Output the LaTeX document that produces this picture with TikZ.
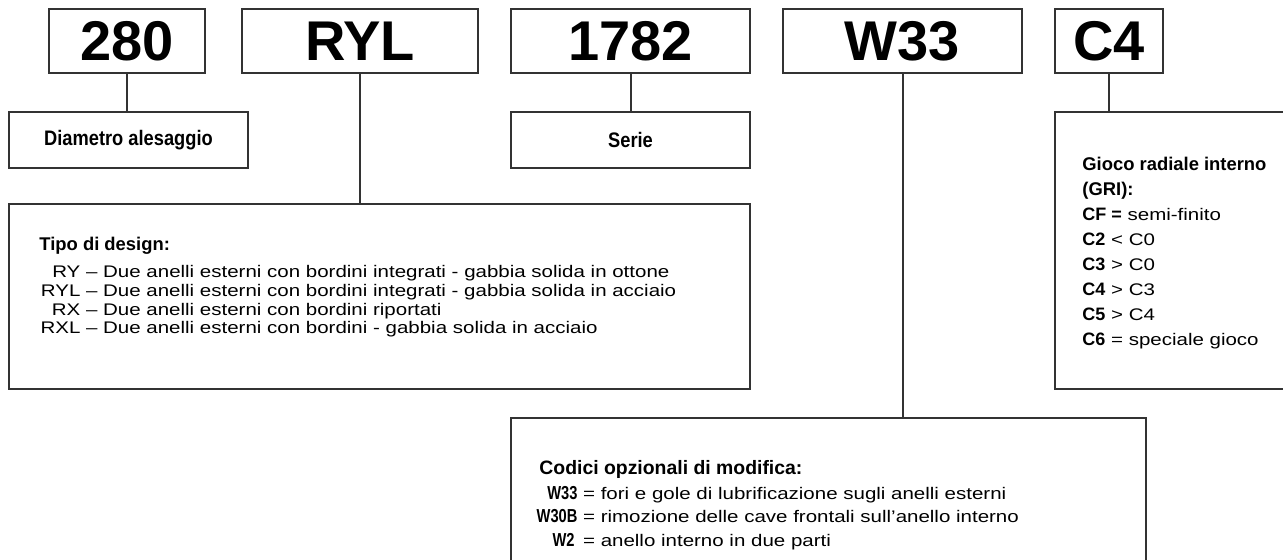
\documentclass[tikz,border=0pt]{standalone}
\usepackage{fontspec}
\setmainfont{Liberation Sans}
\newfontfamily\widefont[FakeStretch=1.22]{Liberation Sans}
\newfontfamily\condfont[FakeStretch=0.87]{Liberation Sans}
\newfontfamily\narrowfont[FakeStretch=0.78]{Liberation Sans}
\usetikzlibrary{positioning}

\newcommand\heading[1]{{\rmfamily\fontsize{9.2}{9.2}\selectfont\bfseries #1}}
\newcommand\optcode[1]{{\rmfamily\fontsize{9}{9}\selectfont\bfseries #1}}
\newcommand\modcode[1]{{\narrowfont\fontsize{9.4}{9.4}\selectfont\bfseries #1}}

\tikzset{
	codebox/.style={draw=black!80, line width=1pt, minimum height=32pt, inner sep=0pt,
		font=\fontsize{28}{28}\selectfont\bfseries},
	labelbox/.style={draw=black!80, line width=1pt, minimum height=28pt, inner sep=0pt,
		font=\condfont\fontsize{10.5}{12}\selectfont\bfseries},
	infobox/.style={draw=black!80, line width=1pt, inner sep=0pt},
	listtext/.style={inner sep=0pt, align=left, anchor=north west},
	link/.style={draw=black!80, line width=1pt},
}

\begin{document}
\begin{tikzpicture}[x=0.5pt,y=-0.5pt]
	\clip (0,0) rectangle (1283,560);

	% designation codes
	\node[codebox, minimum width=78pt] (c280) at (127,41) {280};
	\node[codebox, minimum width=118pt] (cRYL) at (360,41) {RYL};
	\node[codebox, minimum width=119.5pt] (c1782) at (630.5,41) {1782};
	\node[codebox, minimum width=119.5pt] (cW33) at (902.5,41) {W33};
	\node[codebox, minimum width=54pt] (cC4) at (1109,41) {C4};

	% explanations
	\node[labelbox, minimum width=119.5pt] (bore) at (128.5,140) {Diametro alesaggio};
	\node[labelbox, minimum width=119.5pt] (series) at (630.5,140) {Serie};
	\node[infobox, minimum width=370.5pt, minimum height=92.5pt] (design) at (379.5,296.5) {};
	\node[infobox, minimum width=122.5pt, minimum height=138.5pt] (clearance) at (1177.5,250.5) {};
	\node[infobox, minimum width=317.5pt, minimum height=91pt] (modcodes) at (828.5,509) {};

	\node[listtext, font=\widefont\fontsize{8.4}{9.35}\selectfont] (designtext) at (39,237) {%
		\heading{Tipo di design:}\\[4.2pt]
		\makebox[20.5pt][r]{RY}\ –\ Due anelli esterni con bordini integrati - gabbia solida in ottone\\
		\makebox[20.5pt][r]{RYL}\ –\ Due anelli esterni con bordini integrati - gabbia solida in acciaio\\
		\makebox[20.5pt][r]{RX}\ –\ Due anelli esterni con bordini riportati\\
		\makebox[20.5pt][r]{RXL}\ –\ Due anelli esterni con bordini - gabbia solida in acciaio};

	\node[listtext, font=\widefont\fontsize{8.4}{12.5}\selectfont] (clearancetext) at (1082,157) {%
		\heading{Gioco radiale interno}\\
		\heading{(GRI):}\\
		\optcode{CF =} semi-finito\\
		\optcode{C2} < C0\\
		\optcode{C3} > C0\\
		\optcode{C4} > C3\\
		\optcode{C5} > C4\\
		\optcode{C6} = speciale gioco};

	\node[listtext, font=\widefont\fontsize{8.4}{11.75}\selectfont] (modtext) at (539,460) {%
		\heading{\fontsize{9.7}{9.7}\selectfont Codici opzionali di modifica:}\\[0.6pt]
		\makebox[19pt][r]{\modcode{W33}}\ = fori e gole di lubrificazione sugli anelli esterni\\
		\makebox[19pt][r]{\modcode{W30B}}\ = rimozione delle cave frontali sull’anello interno\\
		\makebox[19pt][r]{\modcode{W2}\,}\ = anello interno in due parti};

	% connectors
	\draw[link] (c280.south) -- (c280.south |- bore.north);
	\draw[link] (cRYL.south) -- (cRYL.south |- design.north);
	\draw[link] (c1782.south) -- (c1782.south |- series.north);
	\draw[link] (cW33.south) -- (cW33.south |- modcodes.north);
	\draw[link] (cC4.south) -- (cC4.south |- clearance.north);
\end{tikzpicture}
\end{document}
